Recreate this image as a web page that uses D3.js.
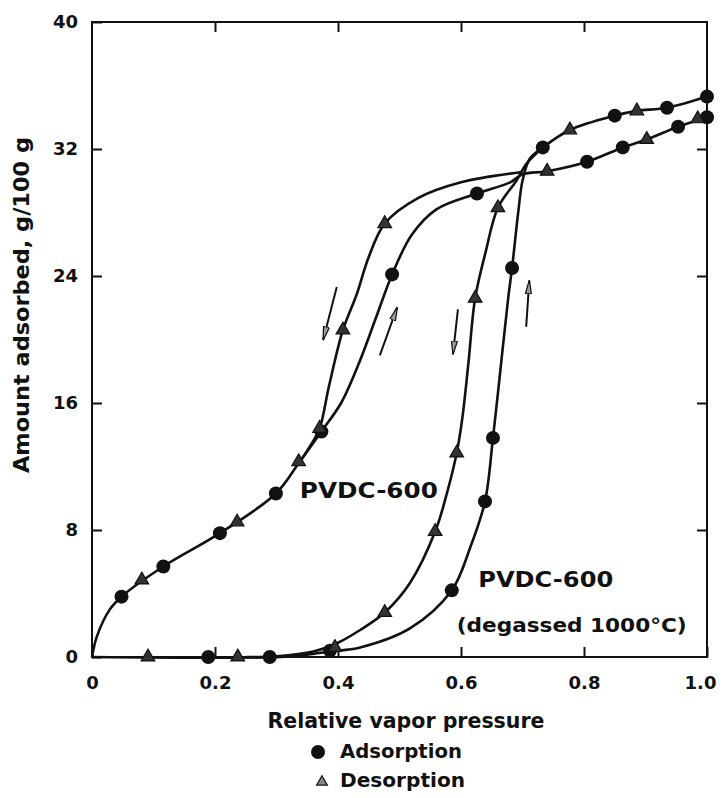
<!DOCTYPE html>
<html lang="en">
<head>
<meta charset="utf-8">
<title>PVDC-600 isotherms</title>
<style>
  body { margin: 0; background: #fff; }
  svg text { font-family: "DejaVu Sans", sans-serif; font-weight: bold; fill: #111; }
  .axis text { font-size: 18px; }
  .axis line { stroke: #111; stroke-width: 2; }
  .axis .domain { display: none; }
</style>
</head>
<body>
<div id="chart"></div>
<script src="https://d3js.org/d3.v7.min.js"></script>
<script>
// x = relative vapor pressure, y = amount adsorbed (g/100 g)

// PVDC-600, measured points
var ads600 = [[0.048, 3.8], [0.116, 5.7], [0.208, 7.8], [0.299, 10.3], [0.373, 14.2], [0.488, 24.1],
  [0.626, 29.2], [0.805, 31.2], [0.863, 32.1], [0.953, 33.4], [1.0, 34.0]]
var des600 = [[0.081, 4.85], [0.236, 8.5], [0.336, 12.3], [0.370, 14.4], [0.408, 20.6], [0.476, 27.3],
  [0.740, 30.6], [0.902, 32.6], [0.985, 33.9]]

// PVDC-600 degassed at 1000 C, measured points
var adsDeg = [[0.189, 0], [0.289, 0], [0.387, 0.4], [0.585, 4.2], [0.639, 9.8], [0.652, 13.8],
  [0.683, 24.5], [0.733, 32.1], [0.850, 34.1], [0.935, 34.6], [1.0, 35.3]]
var desDeg = [[0.091, 0], [0.237, 0], [0.395, 0.6], [0.476, 2.8], [0.558, 7.9], [0.593, 12.85],
  [0.623, 22.6], [0.660, 28.3], [0.777, 33.2], [0.886, 34.4]]

// drawn curves (traced through and between the points)
var ads600Curve = [[0, 0], [0.008, 1.3], [0.029, 3.0], [0.048, 3.8], [0.116, 5.7], [0.208, 7.8],
  [0.299, 10.3], [0.336, 12.2], [0.373, 14.2], [0.405, 16.0], [0.435, 18.6], [0.462, 21.4],
  [0.488, 24.1], [0.520, 26.6], [0.560, 28.2], [0.626, 29.2], [0.680, 29.9], [0.700, 30.4],
  [0.740, 30.6], [0.805, 31.2], [0.863, 32.1], [0.902, 32.6], [0.953, 33.4], [1.0, 34.0]]
var des600Curve = [[0.700, 30.55], [0.600, 29.9], [0.530, 28.9], [0.476, 27.3], [0.450, 25.2],
  [0.430, 22.8], [0.408, 20.6], [0.385, 17.0], [0.370, 14.4], [0.350, 13.0], [0.336, 12.2]]
var adsDegCurve = [[0, 0], [0.306, 0], [0.350, 0.15], [0.387, 0.35], [0.436, 0.6], [0.517, 1.8],
  [0.585, 4.2], [0.615, 6.9], [0.639, 9.8], [0.652, 13.8], [0.668, 19.5], [0.677, 22.7],
  [0.683, 24.5], [0.693, 28.0], [0.700, 30.0], [0.712, 31.4], [0.733, 32.1], [0.777, 33.2],
  [0.850, 34.1], [0.886, 34.4], [0.935, 34.6], [1.0, 35.3]]
var desDegCurve = [[0.733, 32.1], [0.707, 31.1], [0.690, 30.0], [0.660, 28.3], [0.640, 25.5],
  [0.623, 22.6], [0.612, 18.5], [0.602, 15.0], [0.593, 12.85], [0.577, 10.3], [0.558, 7.9],
  [0.517, 4.66], [0.476, 2.8], [0.436, 1.7], [0.400, 0.9], [0.360, 0.35], [0.300, 0.05],
  [0.250, 0]]

// direction arrows [x1, y1, x2, y2]
var arrows = [[0.398, 23.3, 0.376, 20.0], [0.468, 19.0, 0.496, 22.0],
  [0.595, 21.9, 0.587, 19.1], [0.706, 20.8, 0.711, 23.7]]

var xTicks = [0, 0.2, 0.4, 0.6, 0.8, 1.0]
var xTickLabels = ["0", "0.2", "0.4", "0.6", "0.8", "1.0"]
var yTicks = [0, 8, 16, 24, 32, 40]

var width = 721, height = 798
var margins = {top: 22, right: 14, bottom: 141, left: 92}
var w = width - margins.left - margins.right
var h = height - margins.top - margins.bottom

var root = d3.select("#chart").append("svg")
  .attr("width", width)
  .attr("height", height)
var svg = root.append("g")
  .attr("transform", "translate(" + margins.left + "," + margins.top + ")")

var x = d3.scaleLinear().domain([0, 1]).range([0, w])
var y = d3.scaleLinear().domain([0, 40]).range([h, 0])

// inward ticks on all four sides
var xAxis = svg.append("g").attr("class", "axis")
  .attr("transform", "translate(0," + h + ")")
  .call(d3.axisBottom(x).tickValues(xTicks).tickSize(-10).tickPadding(19)
    .tickFormat(function (d, i) { return xTickLabels[i] }))
// keep the last label inside the page
xAxis.selectAll(".tick:last-of-type text").attr("dx", -7)

svg.append("g").attr("class", "axis")
  .call(d3.axisTop(x).tickValues(xTicks.slice(1, -1)).tickSize(-10).tickFormat(""))
svg.append("g").attr("class", "axis")
  .call(d3.axisLeft(y).tickValues(yTicks).tickSize(-10).tickPadding(14))
svg.append("g").attr("class", "axis")
  .attr("transform", "translate(" + w + ",0)")
  .call(d3.axisRight(y).tickValues(yTicks.slice(1, -1)).tickSize(-10).tickFormat(""))

svg.selectAll(".axis text").attr("fill", null)

svg.append("rect")
  .attr("width", w)
  .attr("height", h)
  .attr("fill", "none")
  .attr("stroke", "#111")
  .attr("stroke-width", 2)

var line = d3.line()
  .x(function (d) { return x(d[0]) })
  .y(function (d) { return y(d[1]) })
  .curve(d3.curveCatmullRom.alpha(0.5))

svg.selectAll(".curve")
  .data([ads600Curve, des600Curve, adsDegCurve, desDegCurve])
  .enter().append("path")
  .attr("class", "curve")
  .attr("d", line)
  .attr("fill", "none")
  .attr("stroke", "#111")
  .attr("stroke-width", 2.6)
  .attr("stroke-linejoin", "round")

// circles for adsorption
svg.selectAll(".ads")
  .data(ads600.concat(adsDeg))
  .enter().append("circle")
  .attr("class", "ads")
  .attr("cx", function (d) { return x(d[0]) })
  .attr("cy", function (d) { return y(d[1]) })
  .attr("r", 7)
  .attr("fill", "#111")

// triangles for desorption
var tri = d3.symbol(d3.symbolTriangle).size(80)
svg.selectAll(".des")
  .data(des600.concat(desDeg))
  .enter().append("path")
  .attr("class", "des")
  .attr("d", tri)
  .attr("transform", function (d) { return "translate(" + x(d[0]) + "," + y(d[1]) + ")" })
  .attr("fill", "#333")
  .attr("stroke", "#111")
  .attr("stroke-width", 1.2)

// arrows
root.append("defs").append("marker")
  .attr("id", "head")
  .attr("viewBox", "0 0 14 7")
  .attr("refX", 13)
  .attr("refY", 3.5)
  .attr("markerWidth", 14)
  .attr("markerHeight", 7)
  .attr("markerUnits", "userSpaceOnUse")
  .attr("orient", "auto")
  .append("path")
  .attr("d", "M0,0.5 L14,3.5 L0,6.5 Z")
  .attr("fill", "#999")
  .attr("stroke", "#111")
  .attr("stroke-width", 1.2)

svg.selectAll(".arrow")
  .data(arrows)
  .enter().append("line")
  .attr("class", "arrow")
  .attr("x1", function (d) { return x(d[0]) })
  .attr("y1", function (d) { return y(d[1]) })
  .attr("x2", function (d) { return x(d[2]) })
  .attr("y2", function (d) { return y(d[3]) })
  .attr("stroke", "#111")
  .attr("stroke-width", 2)
  .attr("marker-end", "url(#head)")

// curve labels
svg.append("text")
  .attr("x", x(0.338)).attr("y", y(10.0))
  .attr("font-size", 21).attr("textLength", 138).attr("lengthAdjust", "spacingAndGlyphs")
  .text("PVDC-600")
svg.append("text")
  .attr("x", x(0.628)).attr("y", y(4.4))
  .attr("font-size", 21).attr("textLength", 135).attr("lengthAdjust", "spacingAndGlyphs")
  .text("PVDC-600")
svg.append("text")
  .attr("x", x(0.593)).attr("y", y(1.6))
  .attr("font-size", 20).attr("textLength", 230).attr("lengthAdjust", "spacingAndGlyphs")
  .text("(degassed 1000°C)")

// axis titles
root.append("text")
  .attr("transform", "translate(29,305) rotate(-90)")
  .attr("text-anchor", "middle")
  .attr("font-size", 21).attr("textLength", 336).attr("lengthAdjust", "spacingAndGlyphs")
  .text("Amount adsorbed,  g/100 g")
root.append("text")
  .attr("x", 406).attr("y", 728)
  .attr("text-anchor", "middle")
  .attr("font-size", 21).attr("textLength", 277).attr("lengthAdjust", "spacingAndGlyphs")
  .text("Relative vapor pressure")

// legend
root.append("circle").attr("cx", 318).attr("cy", 752).attr("r", 7).attr("fill", "#111")
root.append("text")
  .attr("x", 340).attr("y", 758)
  .attr("font-size", 19).attr("textLength", 122).attr("lengthAdjust", "spacingAndGlyphs")
  .text("Adsorption")
root.append("path")
  .attr("d", d3.symbol(d3.symbolTriangle).size(50))
  .attr("transform", "translate(322,782)")
  .attr("fill", "#888").attr("stroke", "#111").attr("stroke-width", 1.2)
root.append("text")
  .attr("x", 340).attr("y", 787)
  .attr("font-size", 19).attr("textLength", 125).attr("lengthAdjust", "spacingAndGlyphs")
  .text("Desorption")
</script>
</body>
</html>
